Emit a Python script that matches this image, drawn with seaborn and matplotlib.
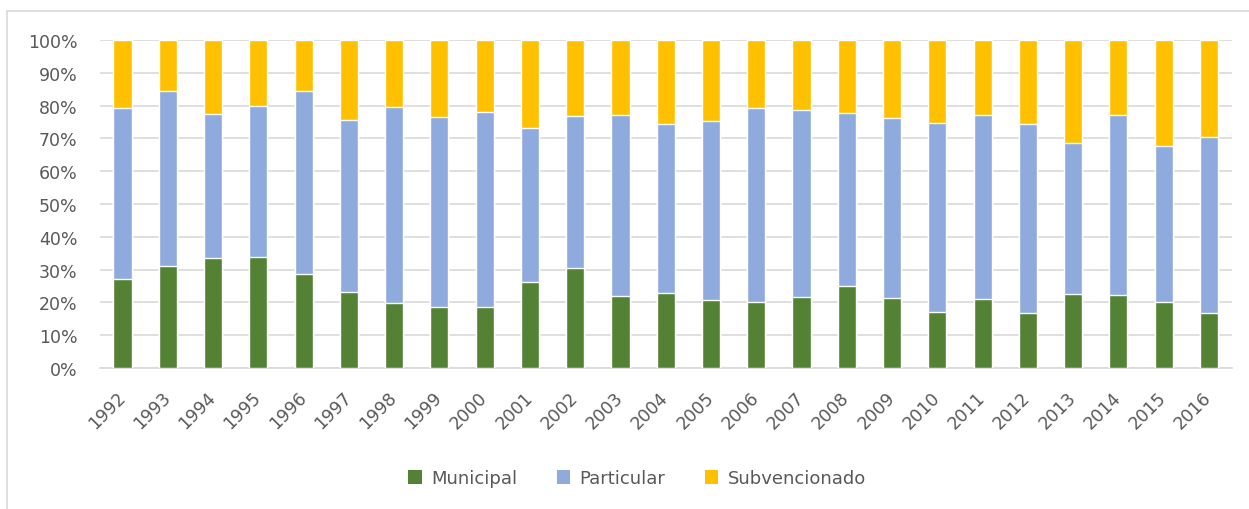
import numpy as np
import pandas as pd
import seaborn as sns
import matplotlib.pyplot as plt
from matplotlib.patches import Patch
from matplotlib.lines import Line2D

# shares (%)
years = [str(y) for y in range(1992, 2017)]
municipal = [27.1, 31.1, 33.5, 33.8, 28.8, 23.1, 19.8, 18.6, 18.5, 26.2, 30.4, 21.9, 23.0,
             20.7, 20.1, 21.6, 24.9, 21.3, 17.0, 21.0, 16.7, 22.6, 22.2, 20.1, 16.7]
particular = [52.2, 53.4, 44.0, 46.0, 55.7, 52.5, 59.8, 57.8, 59.5, 47.0, 46.3, 55.1, 51.4,
              54.7, 59.3, 57.1, 52.9, 55.0, 57.7, 56.2, 57.7, 46.0, 55.0, 47.7, 53.6]
subvencionado = [20.7, 15.5, 22.5, 20.2, 15.5, 24.4, 20.4, 23.6, 22.0, 26.8, 23.3, 23.0, 25.6,
                 24.6, 20.6, 21.3, 22.2, 23.7, 25.3, 22.8, 25.6, 31.4, 22.8, 32.2, 29.7]

series = ['Municipal', 'Particular', 'Subvencionado']
colors = ['#548235', '#8FAADC', '#FFC000']
gray_txt = '#595959'
grid_c = '#D9D9D9'

df = pd.DataFrame({'year': years, 'Municipal': municipal,
                   'Particular': particular, 'Subvencionado': subvencionado})
# normalise to 100% and stack
tot = df[series].sum(axis=1)
for s in series:
    df[s] = df[s] / tot * 100
cum = df[series].cumsum(axis=1)

sns.set_theme(style='white')
plt.rcParams['font.family'] = ['DejaVu Sans']

fig = plt.figure(figsize=(12.49, 5.10), dpi=100)
ax = fig.add_axes([0.080, 0.2765, 0.906, 0.643])

# draw the tallest layer first so lower layers sit on top
for s, c in reversed(list(zip(series, colors))):
    sns.barplot(x=df['year'], y=cum[s], color=c, width=0.4, saturation=1,
                ax=ax, zorder=3)

ax.set_ylim(0, 100)
ax.set_xlim(-0.5, len(years) - 0.5)
ax.set_yticks(range(0, 101, 10))
ax.set_yticklabels([f'{v}%' for v in range(0, 101, 10)])
ax.yaxis.grid(True, color=grid_c, linewidth=1.2, zorder=0)
ax.set_axisbelow(True)
ax.set_xlabel('')
ax.set_ylabel('')
for sp in ['top', 'right', 'left']:
    ax.spines[sp].set_visible(False)
ax.spines['bottom'].set_color(grid_c)
ax.spines['bottom'].set_linewidth(1.2)

ax.tick_params(axis='y', length=0, pad=16, labelsize=12.5, labelcolor=gray_txt)
ax.tick_params(axis='x', which='major', length=0, pad=19, labelsize=12.5,
               labelcolor=gray_txt)
ax.set_xticks(np.arange(-0.5, len(years), 1), minor=True)
ax.tick_params(axis='x', which='minor', length=5, color=grid_c, width=1.2)
for lab in ax.get_xticklabels():
    lab.set_rotation(45)
    lab.set_ha('right')
    lab.set_va('center')
    lab.set_rotation_mode('anchor')

handles = [Patch(facecolor=c, edgecolor='none') for c in colors]
fig.legend(handles, series, loc='center', bbox_to_anchor=(0.51, 0.06), ncol=3,
           frameon=False, fontsize=13, handlelength=0.75, handleheight=0.75,
           columnspacing=2.2, handletextpad=0.5, labelcolor=gray_txt)

# chart area frame (top and left edges visible in the reference)
fig.add_artist(Line2D([7 / 1249, 1.01], [1 - 12 / 510] * 2, transform=fig.transFigure,
                      color=grid_c, linewidth=1.2))
fig.add_artist(Line2D([7 / 1249] * 2, [-0.01, 1 - 12 / 510], transform=fig.transFigure,
                      color=grid_c, linewidth=1.2))

fig.savefig('out.png', dpi=100)
